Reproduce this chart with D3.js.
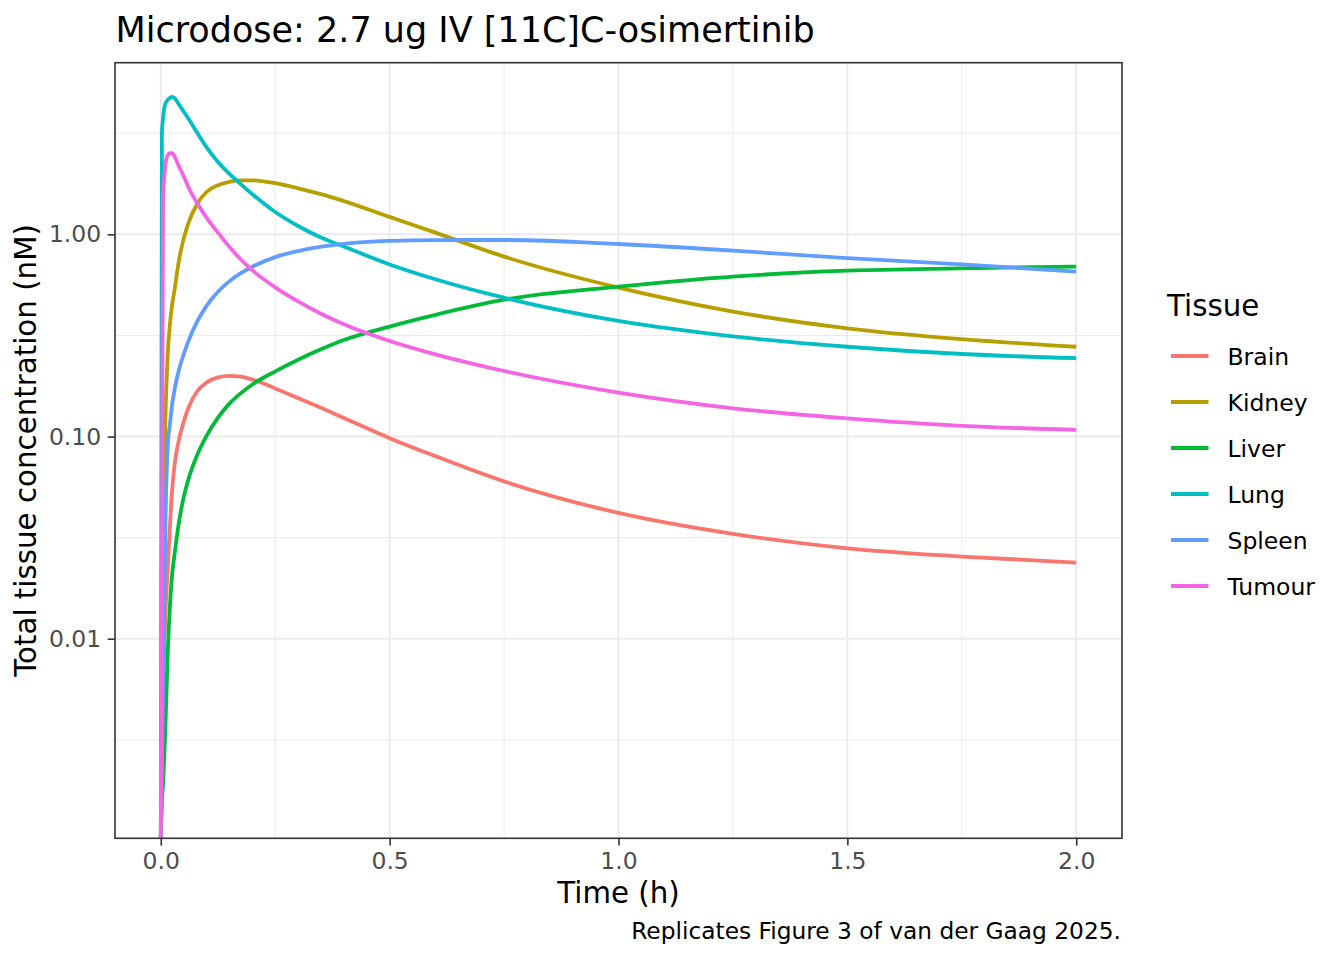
<!DOCTYPE html>
<html>
<head>
<meta charset="utf-8">
<script src="https://cdn.jsdelivr.net/npm/d3@7"></script>
<style>
  body { margin: 0; background: #fff; }
  svg { display: block; font-family: "DejaVu Sans", sans-serif; }
</style>
</head>
<body>
<svg id="chart" width="1344" height="960"></svg>
<script>
// DATA
// --------------------------------------

var tissues = ['Brain', 'Kidney', 'Liver', 'Lung', 'Spleen', 'Tumour'];
var colours = ['#F8766D', '#B79F00', '#00BA38', '#00BFC4', '#619CFF', '#F564E3'];

var times = [0, 0.0025, 0.005, 0.0075, 0.01, 0.015, 0.02, 0.025, 0.03, 0.04,
             0.05, 0.06, 0.08, 0.1, 0.125, 0.15, 0.175, 0.2, 0.25, 0.3,
             0.35, 0.4, 0.5, 0.6, 0.75, 1.0, 1.25, 1.5, 1.75, 2.0];

var brain  = [0, 0.002, 0.005, 0.009, 0.013, 0.022, 0.036, 0.055, 0.072, 0.097,
              0.118, 0.138, 0.168, 0.185, 0.196, 0.1995, 0.1977, 0.1915, 0.173, 0.155,
              0.1387, 0.1236, 0.0982, 0.080, 0.060, 0.0419, 0.033, 0.028, 0.0255, 0.0238];
var kidney = [0, 0.003, 0.02, 0.06, 0.12, 0.25, 0.36, 0.45, 0.53, 0.75,
              0.95, 1.13, 1.42, 1.62, 1.75, 1.82, 1.85, 1.85, 1.79, 1.69,
              1.58, 1.46, 1.22, 1.02, 0.776, 0.545, 0.415, 0.343, 0.303, 0.278];
var liver  = [0, 0.0016, 0.0019, 0.0026, 0.0036, 0.0082, 0.0145, 0.021, 0.026, 0.038,
              0.05, 0.061, 0.0815, 0.1007, 0.124, 0.1455, 0.164, 0.181, 0.21, 0.24,
              0.27, 0.30, 0.350, 0.400, 0.475, 0.551, 0.618, 0.661, 0.679, 0.693];
var lung   = [0, 3.2, 3.75, 4.2, 4.42, 4.62, 4.74, 4.78, 4.72, 4.38,
              4.05, 3.75, 3.17, 2.70, 2.28, 1.99, 1.77, 1.58, 1.29, 1.10,
              0.965, 0.87, 0.71, 0.60, 0.486, 0.373, 0.313, 0.278, 0.256, 0.244];
var spleen = [0, 0.002, 0.006, 0.015, 0.035, 0.088, 0.115, 0.145, 0.17, 0.215,
              0.255, 0.295, 0.372, 0.443, 0.520, 0.587, 0.643, 0.692, 0.772, 0.827,
              0.869, 0.898, 0.928, 0.937, 0.938, 0.896, 0.831, 0.762, 0.711, 0.654];
var tumour = [0, 0.02, 1.5, 1.9, 2.2, 2.46, 2.52, 2.52, 2.43, 2.16,
              1.94, 1.72, 1.42, 1.21, 1.02, 0.867, 0.751, 0.665, 0.547, 0.466,
              0.405, 0.359, 0.297, 0.255, 0.211, 0.165, 0.138, 0.123, 0.113, 0.108];

var seriesValues = [brain, kidney, liver, lung, spleen, tumour];

var xBreaks = [0, 0.5, 1, 1.5, 2];
var xMinorBreaks = [0.25, 0.75, 1.25, 1.75];
var xTickLabels = ['0.0', '0.5', '1.0', '1.5', '2.0'];
var yBreaks = [0.01, 0.1, 1];
var yMinorBreaks = [Math.pow(10, -2.5), Math.pow(10, -1.5), Math.pow(10, -0.5), Math.pow(10, 0.5)];
var yTickLabels = ['0.01', '0.10', '1.00'];

// LAYOUT
// --------------------------------------

var panel = {left: 115, right: 1122, top: 62.7, bottom: 838.3};

var svg = d3.select('#chart');

var x = d3.scaleLinear()
    .domain([-0.1, 2.1])
    .range([panel.left, panel.right]);

var y = d3.scaleLog()
    .domain([Math.pow(10, -2.987), Math.pow(10, 0.849)])
    .range([panel.bottom, panel.top]);

// zero concentrations sit on the panel edge, as ggplot does with -Inf
function yPos(v) {
    return v > 0 ? y(v) : panel.bottom;
}

svg.append('rect')
    .attr('x', panel.left).attr('y', panel.top)
    .attr('width', panel.right - panel.left)
    .attr('height', panel.bottom - panel.top)
    .attr('fill', '#fff');

// GRID
// --------------------------------------

var grid = svg.append('g').attr('stroke', '#EBEBEB');

grid.selectAll('.xminor').data(xMinorBreaks).enter().append('line')
    .attr('x1', x).attr('x2', x)
    .attr('y1', panel.top).attr('y2', panel.bottom)
    .attr('stroke-width', 1);

grid.selectAll('.yminor').data(yMinorBreaks).enter().append('line')
    .attr('y1', y).attr('y2', y)
    .attr('x1', panel.left).attr('x2', panel.right)
    .attr('stroke-width', 1);

grid.selectAll('.xmajor').data(xBreaks).enter().append('line')
    .attr('x1', x).attr('x2', x)
    .attr('y1', panel.top).attr('y2', panel.bottom)
    .attr('stroke-width', 2);

grid.selectAll('.ymajor').data(yBreaks).enter().append('line')
    .attr('y1', y).attr('y2', y)
    .attr('x1', panel.left).attr('x2', panel.right)
    .attr('stroke-width', 2);

// LINES
// --------------------------------------

svg.append('clipPath').attr('id', 'panel-clip')
  .append('rect')
    .attr('x', panel.left).attr('y', panel.top)
    .attr('width', panel.right - panel.left)
    .attr('height', panel.bottom - panel.top);

var line = d3.line()
    .x(function (d) { return x(d[0]); })
    .y(function (d) { return yPos(d[1]); })
    .curve(d3.curveMonotoneX);

svg.append('g')
    .attr('clip-path', 'url(#panel-clip)')
  .selectAll('path')
    .data(tissues)
      .enter()
    .append('path')
      .attr('fill', 'none')
      .attr('stroke', function (d, i) { return colours[i]; })
      .attr('stroke-width', 3.8)
      .attr('stroke-linejoin', 'round')
      .attr('d', function (d, i) {
          return line(times.map(function (t, j) { return [t, seriesValues[i][j]]; }));
      });

svg.append('rect')
    .attr('x', panel.left).attr('y', panel.top)
    .attr('width', panel.right - panel.left)
    .attr('height', panel.bottom - panel.top)
    .attr('fill', 'none')
    .attr('stroke', '#333333')
    .attr('stroke-width', 1.6);

// AXES
// --------------------------------------

var xAxis = d3.axisBottom(x)
    .tickValues(xBreaks)
    .tickFormat(function (d, i) { return xTickLabels[i]; })
    .tickSizeInner(7.3).tickSizeOuter(0).tickPadding(6.5);

var yAxis = d3.axisLeft(y)
    .tickValues(yBreaks)
    .tickFormat(function (d, i) { return yTickLabels[i]; })
    .tickSizeInner(7.3).tickSizeOuter(0).tickPadding(6.5);

var gx = svg.append('g')
    .attr('transform', 'translate(0,' + panel.bottom + ')')
    .call(xAxis);

var gy = svg.append('g')
    .attr('transform', 'translate(' + panel.left + ',0)')
    .call(yAxis);

[gx, gy].forEach(function (g) {
    g.select('.domain').remove();
    g.selectAll('.tick line').attr('stroke', '#333333').attr('stroke-width', 1.6);
    g.selectAll('.tick text')
        .attr('fill', '#4D4D4D')
        .style('font-family', '"DejaVu Sans", sans-serif')
        .style('font-size', '23.5px');
});

// TEXT
// --------------------------------------

svg.append('text')
    .attr('x', 115.5).attr('y', 41.5)
    .style('font-size', '35px')
    .text('Microdose: 2.7 ug IV [11C]C-osimertinib');

svg.append('text')
    .attr('x', (panel.left + panel.right) / 2).attr('y', 903)
    .attr('text-anchor', 'middle')
    .style('font-size', '29.3px')
    .text('Time (h)');

svg.append('text')
    .attr('transform', 'translate(36,' + (panel.top + panel.bottom) / 2 + ') rotate(-90)')
    .attr('text-anchor', 'middle')
    .style('font-size', '29.3px')
    .text('Total tissue concentration (nM)');

svg.append('text')
    .attr('x', 1121).attr('y', 938.5)
    .attr('text-anchor', 'end')
    .style('font-size', '23.3px')
    .text('Replicates Figure 3 of van der Gaag 2025.');

// LEGEND
// --------------------------------------

var legend = svg.append('g');

legend.append('text')
    .attr('x', 1167).attr('y', 316)
    .style('font-size', '29.3px')
    .text('Tissue');

var keys = legend.selectAll('.key')
    .data(tissues)
      .enter()
    .append('g')
      .attr('transform', function (d, i) { return 'translate(0,' + (356 + i * 46) + ')'; });

keys.append('line')
    .attr('x1', 1171).attr('x2', 1208.5)
    .attr('stroke', function (d, i) { return colours[i]; })
    .attr('stroke-width', 3.8);

keys.append('text')
    .attr('x', 1227.5).attr('y', 8.5)
    .style('font-size', '23.5px')
    .text(function (d) { return d; });
</script>
</body>
</html>
